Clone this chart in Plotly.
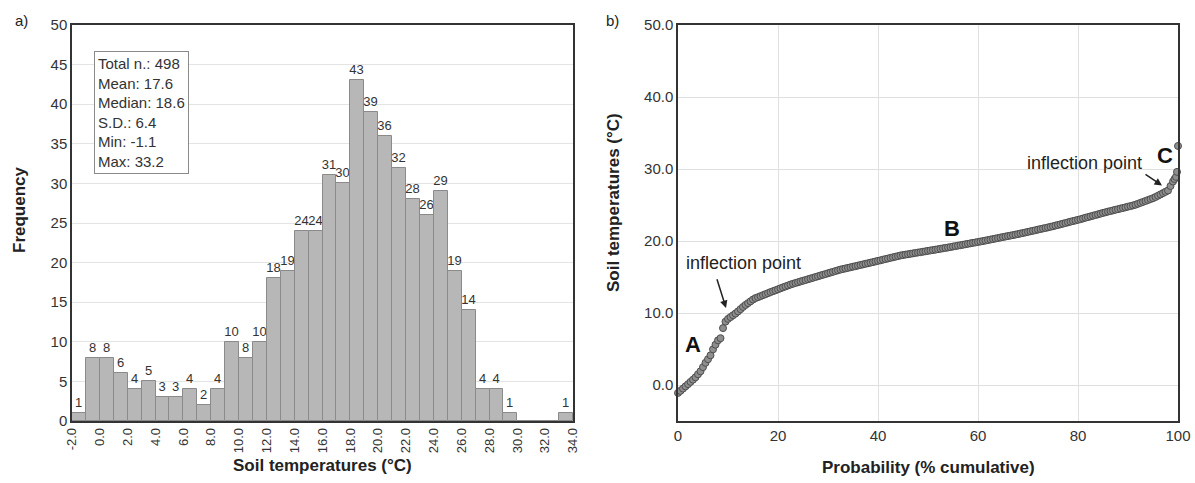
import plotly.graph_objects as go

# ---------------- data ----------------
bin_centers = [-1.5 + i for i in range(36)]
counts = [1, 8, 8, 6, 4, 5, 3, 3, 4, 2, 4, 10, 8, 10, 18, 19, 24, 24, 31, 30,
          43, 39, 36, 32, 28, 26, 29, 19, 14, 4, 4, 1, 0, 0, 0, 1]
hist_ticks = [-2 + 2 * i for i in range(19)]

stats_lines = ["Total n.: 498", "Mean: 17.6", "Median: 18.6", "S.D.: 6.4",
               "Min: -1.1", "Max: 33.2"]

prob_pct = [0, 0.5, 1, 1.5, 2, 2.5, 3, 3.5, 4, 4.5, 5, 5.5, 6, 6.5, 7, 7.5, 8,
            8.5, 9, 9.5, 10, 10.5, 11, 11.5, 12, 12.5, 13, 13.5, 14, 14.5, 15,
            15.5, 16, 16.5, 17, 17.5, 18, 18.5, 19, 19.5, 20, 20.5, 21, 21.5,
            22, 22.5, 23, 23.5, 24, 24.5, 25, 25.5, 26, 26.5, 27, 27.5, 28,
            28.5, 29, 29.5, 30, 30.5, 31, 31.5, 32, 32.5, 33, 33.5, 34, 34.5,
            35, 35.5, 36, 36.5, 37, 37.5, 38, 38.5, 39, 39.5, 40, 40.5, 41,
            41.5, 42, 42.5, 43, 43.5, 44, 44.5, 45, 45.5, 46, 46.5, 47, 47.5,
            48, 48.5, 49, 49.5, 50, 50.5, 51, 51.5, 52, 52.5, 53, 53.5, 54,
            54.5, 55, 55.5, 56, 56.5, 57, 57.5, 58, 58.5, 59, 59.5, 60, 60.5,
            61, 61.5, 62, 62.5, 63, 63.5, 64, 64.5, 65, 65.5, 66, 66.5, 67,
            67.5, 68, 68.5, 69, 69.5, 70, 70.5, 71, 71.5, 72, 72.5, 73, 73.5,
            74, 74.5, 75, 75.5, 76, 76.5, 77, 77.5, 78, 78.5, 79, 79.5, 80,
            80.5, 81, 81.5, 82, 82.5, 83, 83.5, 84, 84.5, 85, 85.5, 86, 86.5,
            87, 87.5, 88, 88.5, 89, 89.5, 90, 90.5, 91, 91.5, 92, 92.5, 93,
            93.5, 94, 94.5, 95, 95.5, 96, 96.5, 97, 97.5, 98, 98.5, 99, 99.3,
            99.6, 99.8, 100]
soil_temp = [-1.1, -0.81, -0.50, -0.19, 0.12, 0.43, 0.74, 1.07, 1.49, 1.90,
             2.48, 3.08, 3.58, 4.12, 4.95, 5.6, 6.2,
             6.5, 7.9, 8.8, 9.18, 9.43, 9.68, 9.93, 10.22, 10.53, 10.84, 11.12,
             11.37, 11.62, 11.87, 12.07, 12.20, 12.34, 12.48, 12.62, 12.76,
             12.90, 13.03, 13.16, 13.29, 13.43, 13.56, 13.69, 13.82, 13.95,
             14.06, 14.17, 14.27, 14.38, 14.48, 14.58, 14.69, 14.79, 14.89,
             15.00, 15.10, 15.21, 15.31, 15.41, 15.52, 15.62, 15.72, 15.83,
             15.93, 16.03, 16.11, 16.19, 16.27, 16.35, 16.43, 16.51, 16.59,
             16.67, 16.75, 16.83, 16.91, 16.99, 17.07, 17.16, 17.24, 17.32,
             17.41, 17.49, 17.57, 17.66, 17.74, 17.82, 17.90, 17.99, 18.05,
             18.11, 18.16, 18.22, 18.28, 18.34, 18.40, 18.45, 18.51, 18.57,
             18.63, 18.69, 18.74, 18.80, 18.86, 18.92, 18.98, 19.04, 19.10,
             19.16, 19.23, 19.29, 19.36, 19.42, 19.48, 19.55, 19.61, 19.68,
             19.74, 19.80, 19.87, 19.93, 19.99, 20.06, 20.13, 20.20, 20.27,
             20.34, 20.41, 20.48, 20.55, 20.62, 20.69, 20.75, 20.82, 20.89,
             20.96, 21.04, 21.11, 21.19, 21.27, 21.35, 21.42, 21.50, 21.58,
             21.66, 21.74, 21.81, 21.89, 21.97, 22.05, 22.14, 22.23, 22.32,
             22.41, 22.50, 22.59, 22.68, 22.77, 22.85, 22.94, 23.03, 23.13,
             23.23, 23.32, 23.42, 23.51, 23.61, 23.70, 23.80, 23.90, 23.99,
             24.08, 24.16, 24.25, 24.34, 24.42, 24.51, 24.59, 24.68, 24.77,
             24.85, 24.94, 25.04, 25.17, 25.30, 25.43, 25.56, 25.69, 25.82,
             25.95, 26.11, 26.29, 26.47, 26.65, 26.83, 27.01, 27.63, 28.26,
             28.6, 28.9, 29.6, 33.2]

# ---------------- figure ----------------
W, H = 1195, 483
FONT = "Liberation Sans, Arial, sans-serif"

def px_x(p):
    return p / W

def px_y(p):
    return 1 - p / H

fig = go.Figure()

fig.add_trace(go.Bar(
    x=bin_centers, y=counts, width=1,
    marker=dict(color="#b7b7b7", line=dict(color="#8a8a8a", width=1)),
    text=[str(c) if c > 0 else "" for c in counts],
    textposition="outside", textangle=0, constraintext="none",
    textfont=dict(family=FONT, size=13, color="#333333"),
    cliponaxis=False, xaxis="x", yaxis="y", showlegend=False,
))

fig.add_trace(go.Scatter(
    x=prob_pct, y=soil_temp, mode="markers",
    marker=dict(size=7, color="#8e8e8e", line=dict(color="#4e4e4e", width=1)),
    xaxis="x2", yaxis="y2", showlegend=False, cliponaxis=False,
))

def axis_style(tick_size=15):
    return dict(showline=True, linecolor="#333333", linewidth=1.5, mirror=True,
                zeroline=False, ticks="", automargin=False,
                tickfont=dict(family=FONT, size=tick_size, color="#333333"))

fig.update_layout(
    width=W, height=H,
    margin=dict(l=0, r=0, t=0, b=0),
    paper_bgcolor="white", plot_bgcolor="white",
    bargap=0,
    font=dict(family=FONT, color="#222222"),
    xaxis=dict(domain=[px_x(72), px_x(573)], range=[-2, 34],
               tickvals=hist_ticks, ticktext=[f"{v:.1f}" for v in hist_ticks],
               tickangle=-90, showgrid=False, anchor="y", **axis_style(13)),
    yaxis=dict(domain=[px_y(421), px_y(25)], range=[0, 50], dtick=5,
               showgrid=True, gridcolor="#e4e4e4", anchor="x", **axis_style()),
    xaxis2=dict(domain=[px_x(678), px_x(1178)], range=[0, 100], dtick=20,
                showgrid=True, gridcolor="#e0e0e0", anchor="y2", **axis_style()),
    yaxis2=dict(domain=[px_y(421), px_y(25)], range=[-5, 50],
                tickvals=[0, 10, 20, 30, 40, 50], tickformat=".1f",
                showgrid=True, gridcolor="#e0e0e0", anchor="x2", **axis_style()),
)

ann = []
def paper_text(text, x, y, size, angle=0, bold=False):
    return dict(text=f"<b>{text}</b>" if bold else text, x=px_x(x), y=px_y(y),
                xref="paper", yref="paper", xanchor="center", yanchor="middle",
                textangle=angle, showarrow=False,
                font=dict(family=FONT, size=size, color="#222222"))

# panel labels
ann.append(paper_text("a)", 21, 21, 15))
ann.append(paper_text("b)", 612, 21, 15))
# axis titles
ann.append(paper_text("Frequency", 20, 210, 17, -90, True))
ann.append(paper_text("Soil temperatures (°C)", 322, 465, 17, 0, True))
ann.append(paper_text("Soil temperatures (°C)", 613, 203, 17, -90, True))
ann.append(paper_text("Probability (% cumulative)", 928, 467, 17, 0, True))
# stats box
ann.append(dict(text="<br>".join(stats_lines), x=px_x(94), y=px_y(51),
                xref="paper", yref="paper", xanchor="left", yanchor="top",
                align="left", showarrow=False, bgcolor="white",
                bordercolor="#8a8a8a", borderwidth=1, borderpad=3,
                font=dict(family=FONT, size=15, color="#333333")))
# right panel labels
lab_font = dict(family=FONT, size=22, color="#111111")
for t, xx, yy in [("A", 3, 5.6), ("B", 54.8, 21.7), ("C", 97.4, 31.9)]:
    ann.append(dict(text=f"<b>{t}</b>", x=xx, y=yy, xref="x2", yref="y2",
                    xanchor="center", yanchor="middle",
                    showarrow=False, font=lab_font))
ip_font = dict(family=FONT, size=18, color="#222222")
ann.append(dict(text="inflection point", x=13, y=16.9, xref="x2", yref="y2",
                xanchor="center", yanchor="middle", showarrow=False, font=ip_font))
ann.append(dict(text="inflection point", x=81.2, y=30.9, xref="x2", yref="y2",
                xanchor="center", yanchor="middle", showarrow=False, font=ip_font))
ann.append(dict(text="", x=9.6, y=10.7, ax=7.7, ay=14.9, xref="x2", yref="y2",
                axref="x2", ayref="y2", showarrow=True, arrowhead=2,
                arrowsize=1, arrowwidth=1.5, arrowcolor="#222222"))
ann.append(dict(text="", x=96.8, y=27.7, ax=93.2, ay=29.4, xref="x2", yref="y2",
                axref="x2", ayref="y2", showarrow=True, arrowhead=2,
                arrowsize=1, arrowwidth=1.5, arrowcolor="#222222"))

fig.update_layout(annotations=ann)

fig.write_html("out.html")
